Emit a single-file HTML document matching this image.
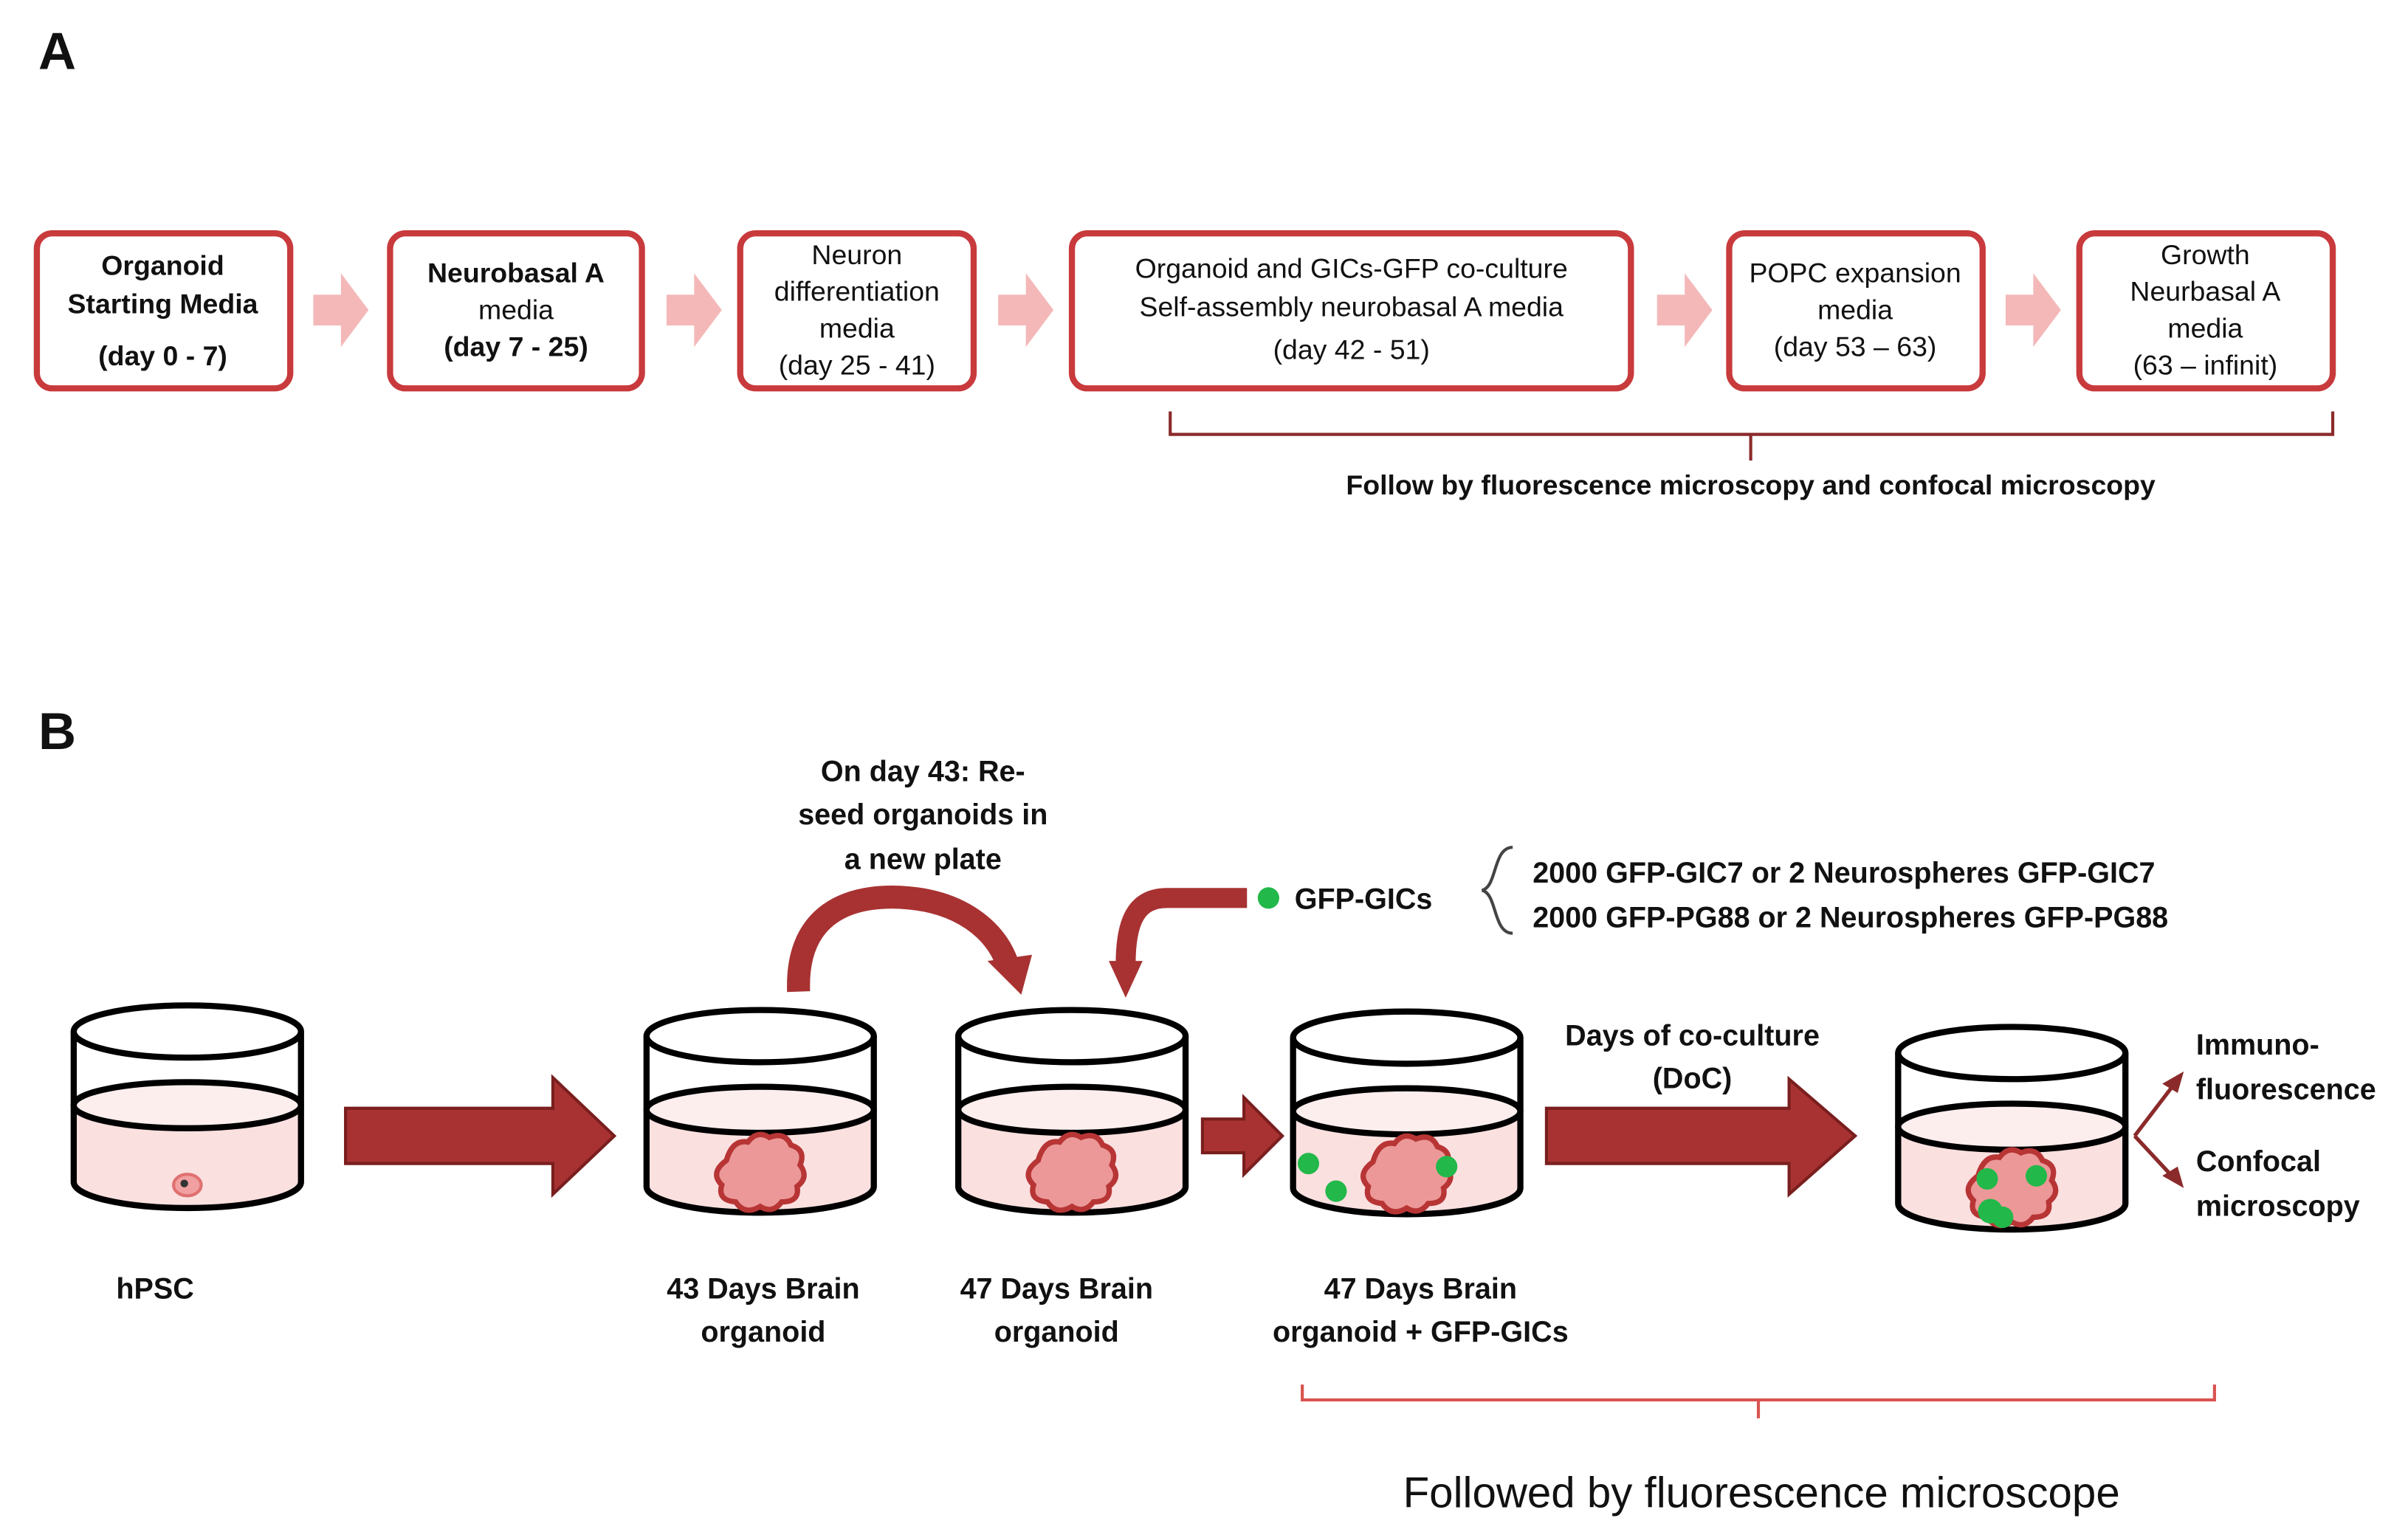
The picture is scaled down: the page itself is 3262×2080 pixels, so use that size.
<!DOCTYPE html>
<html><head><meta charset="utf-8"><style>
html,body{margin:0;padding:0;background:#fff;}
svg{display:block;}
text{font-family:"Liberation Sans",sans-serif;fill:#111;}
.b{font-weight:bold;}
</style></head><body>
<svg width="3262" height="2080" viewBox="0 0 1568 1000" preserveAspectRatio="none" xmlns="http://www.w3.org/2000/svg">
<defs>
<g id="org"><path d="M-22,-12 q4,-14 14,-12 q6,-8 14,-3 q10,-4 14,5 q10,3 6,13 q6,8 -2,14 q2,10 -10,10 q-6,8 -14,3 q-10,6 -16,-3 q-12,-1 -9,-11 q-8,-8 3,-16z" fill="#ec9898" stroke="#b83535" stroke-width="3.5"/></g>
</defs>
<text x="25" y="45" class="b" font-size="34">A</text>
<text x="25" y="488" class="b" font-size="34">B</text>

<!-- Panel A boxes -->
<g fill="#fff" stroke="#c83a3c" stroke-width="4">
<rect x="24" y="152" width="165" height="101" rx="10"/>
<rect x="254" y="152" width="164" height="101" rx="10"/>
<rect x="482" y="152" width="152" height="101" rx="10"/>
<rect x="698" y="152" width="364" height="101" rx="10"/>
<rect x="1126" y="152" width="165" height="101" rx="10"/>
<rect x="1354" y="152" width="165" height="101" rx="10"/>
</g>
<g fill="#f4b8b8">
<path d="M204,192 h18 v-14 l18,24 l-18,24 v-14 h-18z"/>
<path d="M434,192 h18 v-14 l18,24 l-18,24 v-14 h-18z"/>
<path d="M650,192 h18 v-14 l18,24 l-18,24 v-14 h-18z"/>
<path d="M1079,192 h18 v-14 l18,24 l-18,24 v-14 h-18z"/>
<path d="M1306,192 h18 v-14 l18,24 l-18,24 v-14 h-18z"/>
</g>
<g text-anchor="middle" font-size="18">
<text x="106" y="179" class="b">Organoid</text>
<text x="106" y="204" class="b">Starting Media</text>
<text x="106" y="238" class="b">(day 0 - 7)</text>
<text x="336" y="184" class="b">Neurobasal A</text>
<text x="336" y="208">media</text>
<text x="336" y="232" class="b">(day 7 - 25)</text>
<text x="558" y="172">Neuron</text>
<text x="558" y="196">differentiation</text>
<text x="558" y="220">media</text>
<text x="558" y="244">(day 25 - 41)</text>
<text x="880" y="181">Organoid and GICs-GFP co-culture</text>
<text x="880" y="206">Self-assembly neurobasal A media</text>
<text x="880" y="234">(day 42 - 51)</text>
<text x="1208" y="184">POPC expansion</text>
<text x="1208" y="208">media</text>
<text x="1208" y="232">(day 53 – 63)</text>
<text x="1436" y="172">Growth</text>
<text x="1436" y="196">Neurbasal A</text>
<text x="1436" y="220">media</text>
<text x="1436" y="244">(63 – infinit)</text>
</g>
<path d="M762,268 v15 H1519 v-15 M1140,283 v17" fill="none" stroke="#8b2a2a" stroke-width="2"/>
<text x="1140" y="322" text-anchor="middle" class="b" font-size="18">Follow by fluorescence microscopy and confocal microscopy</text>

<!-- Beakers -->
<g id="beakers" stroke="#000" stroke-width="4">
<g transform="translate(122,0)">
<path d="M-74,720 V770 A74,17 0 0 0 74,770 V720 A74,17 0 0 0 -74,720z" fill="#fbe0e0" stroke="none"/>
<ellipse cx="0" cy="720" rx="74" ry="15" fill="#fdeeee"/>
<ellipse cx="0" cy="672" rx="74" ry="17" fill="#fff"/>
<path d="M-74,672 V770 A74,17 0 0 0 74,770 V672" fill="none"/>
<ellipse cx="0" cy="772" rx="9" ry="7" fill="#f0a0a0" stroke="#e07070" stroke-width="2"/>
<circle cx="-2" cy="771" r="2.5" fill="#333" stroke="none"/>
</g>
<g transform="translate(495,3)">
<path d="M-74,720 V770 A74,17 0 0 0 74,770 V720 A74,17 0 0 0 -74,720z" fill="#fbe0e0" stroke="none"/>
<ellipse cx="0" cy="720" rx="74" ry="15" fill="#fdeeee"/>
<ellipse cx="0" cy="672" rx="74" ry="17" fill="#fff"/>
<path d="M-74,672 V770 A74,17 0 0 0 74,770 V672" fill="none"/>
<use href="#org" transform="translate(0,765)" stroke="none"/>
</g>
<g transform="translate(698,3)">
<path d="M-74,720 V770 A74,17 0 0 0 74,770 V720 A74,17 0 0 0 -74,720z" fill="#fbe0e0" stroke="none"/>
<ellipse cx="0" cy="720" rx="74" ry="15" fill="#fdeeee"/>
<ellipse cx="0" cy="672" rx="74" ry="17" fill="#fff"/>
<path d="M-74,672 V770 A74,17 0 0 0 74,770 V672" fill="none"/>
<use href="#org" transform="translate(0,765)" stroke="none"/>
</g>
<g transform="translate(916,4)">
<path d="M-74,720 V770 A74,17 0 0 0 74,770 V720 A74,17 0 0 0 -74,720z" fill="#fbe0e0" stroke="none"/>
<ellipse cx="0" cy="720" rx="74" ry="15" fill="#fdeeee"/>
<ellipse cx="0" cy="672" rx="74" ry="17" fill="#fff"/>
<path d="M-74,672 V770 A74,17 0 0 0 74,770 V672" fill="none"/>
<use href="#org" transform="translate(0,765)" stroke="none"/>
<g fill="#22b84a" stroke="none"><circle cx="-64" cy="754" r="7"/><circle cx="-46" cy="772" r="7"/><circle cx="26" cy="756" r="7"/></g>
</g>
<g transform="translate(1310,14)">
<path d="M-74,720 V770 A74,17 0 0 0 74,770 V720 A74,17 0 0 0 -74,720z" fill="#fbe0e0" stroke="none"/>
<ellipse cx="0" cy="720" rx="74" ry="15" fill="#fdeeee"/>
<ellipse cx="0" cy="672" rx="74" ry="17" fill="#fff"/>
<path d="M-74,672 V770 A74,17 0 0 0 74,770 V672" fill="none"/>
<use href="#org" transform="translate(0,764)" stroke="none"/>
<g fill="#22b84a" stroke="none"><circle cx="-16" cy="754" r="7"/><circle cx="16" cy="752" r="7"/><circle cx="-14" cy="775" r="8"/><circle cx="-6" cy="779" r="7"/></g>
</g>
</g>

<!-- Big arrows -->
<g fill="#a83232" stroke="#7a1e1e" stroke-width="2">
<path d="M225,722 H360 V702 L400,740 L360,778 V758 H225z"/>
<path d="M783,729 H810 V715 L835,740 L810,765 V751 H783z"/>
<path d="M1007,722 H1165 V703 L1208,740 L1165,778 V758 H1007z"/>
</g>
<!-- curved arrows -->
<path d="M520,646 C518,590 560,582 592,585 C625,588 648,605 656,628" fill="none" stroke="#a83232" stroke-width="15"/>
<path d="M643,626 L672,622 L665,648z" fill="#a83232"/>
<path d="M812,585 H760 C740,585 733,600 733,628" fill="none" stroke="#a83232" stroke-width="13"/>
<path d="M722,626 H744 L733,650z" fill="#a83232"/>

<circle cx="826" cy="585" r="7" fill="#22b84a"/>
<text x="843" y="592" class="b" font-size="19">GFP-GICs</text>
<path d="M985,552 C972,552 975,578 965,580 C975,582 972,608 985,608" fill="none" stroke="#444" stroke-width="2"/>
<text x="998" y="575" class="b" font-size="19">2000 GFP-GIC7 or 2 Neurospheres GFP-GIC7</text>
<text x="998" y="604" class="b" font-size="19">2000 GFP-PG88 or 2 Neurospheres GFP-PG88</text>

<g text-anchor="middle" class="b" font-size="19">
<text x="601" y="509">On day 43: Re-</text>
<text x="601" y="537">seed organoids in</text>
<text x="601" y="566">a new plate</text>
<text x="101" y="846">hPSC</text>
<text x="497" y="846">43 Days Brain</text>
<text x="497" y="874">organoid</text>
<text x="688" y="846">47 Days Brain</text>
<text x="688" y="874">organoid</text>
<text x="925" y="846">47 Days Brain</text>
<text x="925" y="874">organoid + GFP-GICs</text>
<text x="1102" y="681">Days of co-culture</text>
<text x="1102" y="709">(DoC)</text>
</g>
<path d="M1390,740 L1416,706 M1390,740 L1416,768" stroke="#8b2a2a" stroke-width="2.5" fill="none"/>
<path d="M1422,698 L1408,706 L1418,712z M1422,774 L1408,766 L1418,760z" fill="#8b2a2a"/>
<g class="b" font-size="19">
<text x="1430" y="687">Immuno-</text>
<text x="1430" y="716">fluorescence</text>
<text x="1430" y="763">Confocal</text>
<text x="1430" y="792">microscopy</text>
</g>
<path d="M848,902 v10 H1442 v-10 M1145,912 v12" fill="none" stroke="#d9534f" stroke-width="2"/>
<text x="1147" y="982" text-anchor="middle" font-size="28">Followed by fluorescence microscope</text>
</svg>
</body></html>
